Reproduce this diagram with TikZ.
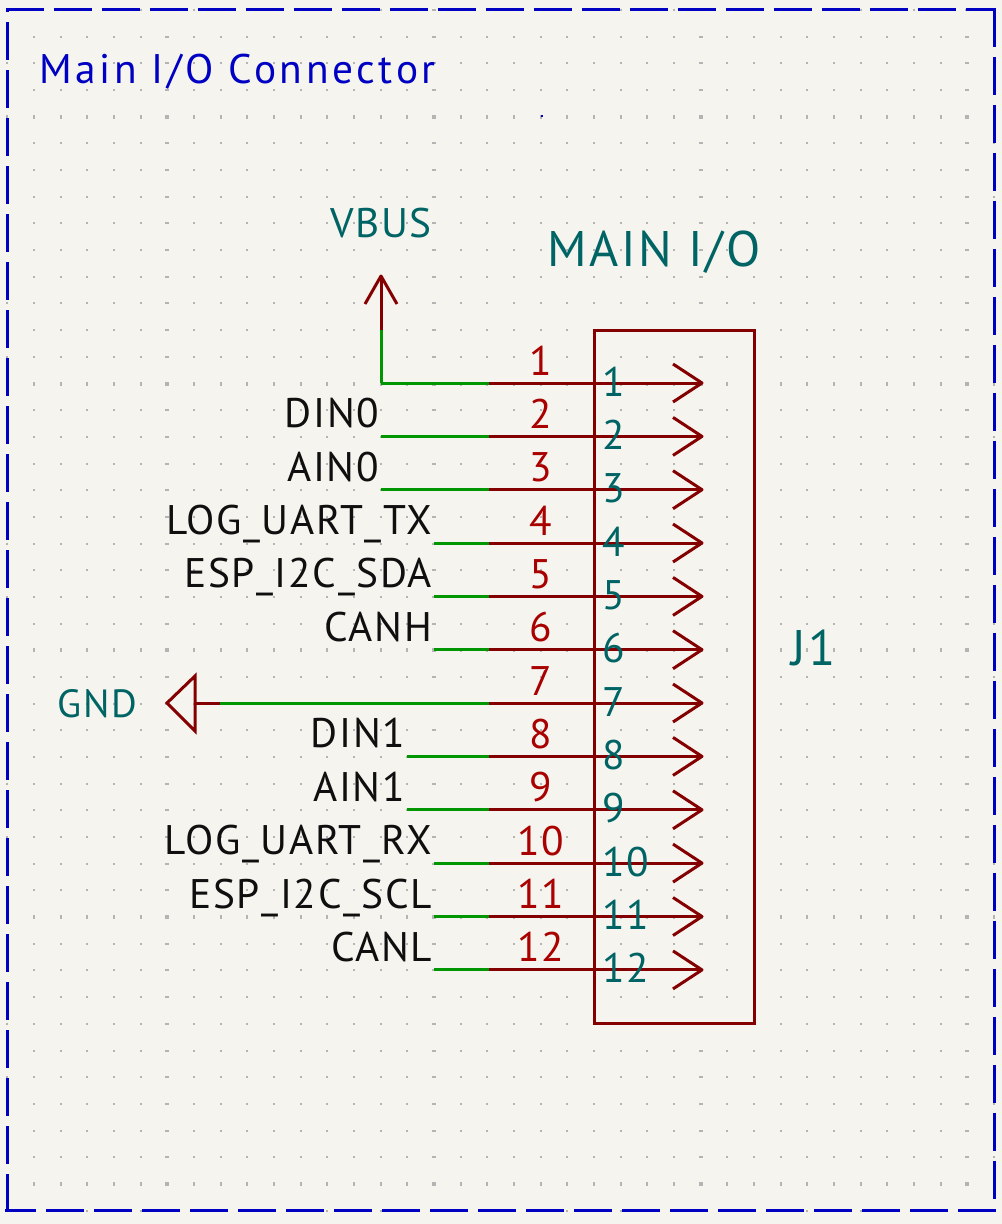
\documentclass[tikz,border=0pt]{standalone}
\usepackage{fontspec}
\setmainfont[LetterSpace=4]{PT Sans}
\newfontfamily\titlefont[LetterSpace=8.8]{PT Sans}
\newfontfamily\valuefont[LetterSpace=5.5]{PT Sans}
\definecolor{sheetbg}{HTML}{F5F4EF}
\definecolor{griddot}{HTML}{B4B4B4}
\definecolor{wirecol}{HTML}{009600}
\definecolor{pincol}{HTML}{840000}
\definecolor{refcol}{HTML}{006464}
\definecolor{numcol}{HTML}{A90000}
\definecolor{netcol}{HTML}{0F0F0F}
\definecolor{notecol}{HTML}{0000C2}
\tikzset{
  wire/.style={color=wirecol,line width=2.25},
  pinline/.style={color=pincol,line width=2.25},
  framedash/.style={color=notecol,line width=2.25,dash pattern=on 28.5 off 7.5},
  lbl/.style={inner sep=0,outer sep=0,font=\fontsize{31}{31}\selectfont},
  biglbl/.style={inner sep=0,outer sep=0,text=refcol,font=\fontsize{37.5}{37.5}\valuefont}
}
\begin{document}
\begin{tikzpicture}[x=0.75pt,y=0.75pt,yscale=-1,xscale=1]
\fill [sheetbg] (0,0) rectangle (1002,1224);
\useasboundingbox (0,0) rectangle (1002,1224);
%Grid
\foreach \i in {0,...,37} {
  \foreach \j in {0,...,45} {
    \pgfmathsetmacro{\gx}{7.3+26.67*\i}
    \pgfmathsetmacro{\gy}{10+26.68*\j}
    \pgfmathsetmacro{\gw}{mod(\i,10)==6 ? 2 : 1}
    \pgfmathsetmacro{\gh}{mod(\j,10)==4 ? 2 : 1}
    \fill [griddot] (\gx-\gw,\gy-\gh) rectangle (\gx+\gw,\gy+\gh);
  }
}
\fill [notecol] (540.5,115) rectangle (542.5,117);
%Sheet frame
\coordinate (tl) at (7.3,9.3);
\coordinate (tr) at (994,9.3);
\coordinate (br) at (994,1210);
\coordinate (bl) at (7.3,1210);
\draw [framedash] ([xshift=-1.1]tl) -- ([xshift=1.5]tr);
\draw [framedash] (tr) -- (br);
\draw [framedash] ([xshift=1.5]br) -- ([xshift=-1.5]bl);
\draw [framedash] ([yshift=1.2]bl) -- (tl);
\node [lbl,anchor=base west,text=notecol,font=\fontsize{31}{31}\titlefont] (title) at (39,83) {Main I/O Connector};
%Connector body
\draw [pinline] (594.7,330.7) rectangle (754.3,1023);
\node [biglbl,anchor=base west] (value) at (547,266) {MAIN I/O};
\node [biglbl,anchor=base west] (ref) at (791,665) {J1};
%Pins
\foreach \n/\ylab/\wx/\net in {
  1/383/381/,
  2/436.4/381/DIN0,
  3/489.7/381/AIN0,
  4/543/434/LOG\_UART\_TX,
  5/596.4/434/ESP\_I2C\_SDA,
  6/649.7/434/CANH,
  7/703/220/,
  8/756.4/407/DIN1,
  9/809.8/407/AIN1,
  10/863.1/434/LOG\_UART\_RX,
  11/916.5/434/ESP\_I2C\_SCL,
  12/969.9/434/CANL} {
  \coordinate (w\n) at (\wx,\ylab);
  \coordinate (p\n) at (489,\ylab);
  \coordinate (t\n) at (702,\ylab);
  \draw [wire] (w\n) -- (p\n);
  \draw [pinline] (p\n) -- (t\n);
  \draw [pinline,line join=round] (673,\ylab-19) -- (t\n) -- (673,\ylab+19);
  \node [lbl,anchor=base,text=numcol] (pn\n) at (541,\ylab-8) {\n};
  \node [lbl,anchor=base west,text=refcol] (pi\n) at (602,\ylab+13) {\n};
  \node [lbl,anchor=base east,text=netcol] (net\n) at (\wx-2,\ylab-8.5) {\net};
}
%VBUS
\coordinate (vbend) at (381,330);
\coordinate (vtip) at (381,276);
\draw [wire] (w1) -- (vbend);
\draw [pinline] (vbend) -- (vtip);
\draw [pinline,line join=round] (365,304) -- (vtip) -- (397,304);
\node [lbl,anchor=base,text=refcol] (vbus) at (381,237) {VBUS};
%GND
\coordinate (gbase) at (195,703);
\draw [pinline] (w7) -- (gbase);
\draw [pinline] (195,676) -- (167,703) -- (195,731) -- cycle;
\node [lbl,anchor=base east,text=refcol,font=\fontsize{29.5}{29.5}\selectfont] (gnd) at (137,717) {GND};
\end{tikzpicture}
\end{document}
